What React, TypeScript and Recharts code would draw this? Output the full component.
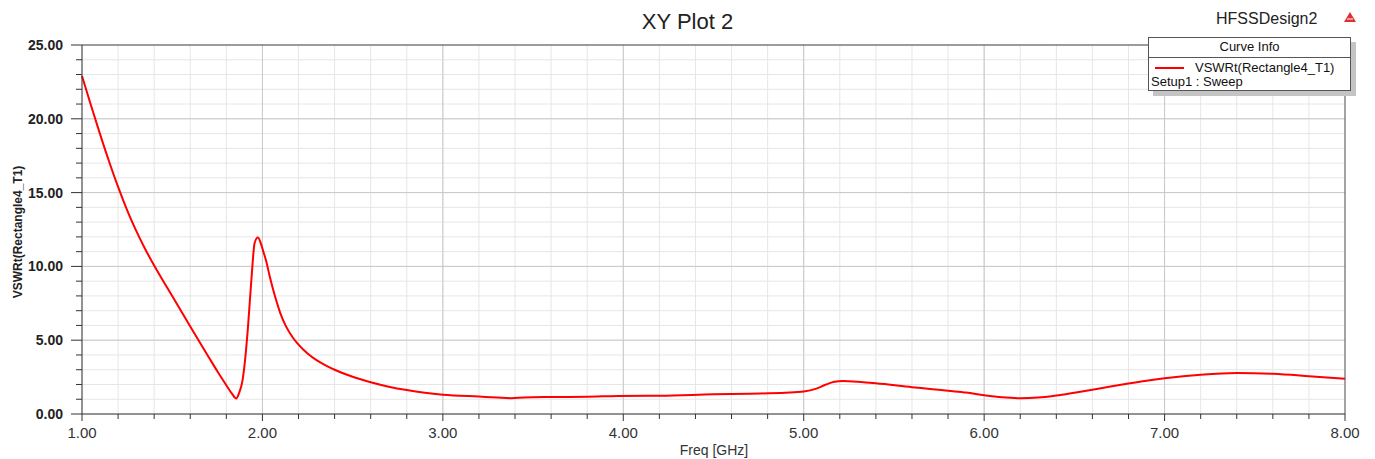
import React from 'react';
import { LineChart, Line, XAxis, YAxis, CartesianGrid, ReferenceLine, Legend } from 'recharts';

// Freq [GHz] sample points
const freqs = [
  1.0, 1.05, 1.1, 1.15, 1.2, 1.25, 1.3, 1.35, 1.4, 1.45, 1.5, 1.55, 1.6, 1.65, 1.7, 1.75, 1.8, 1.83, 1.855,
  1.87, 1.89, 1.905, 1.92, 1.94, 1.957, 1.975, 1.99, 2.005, 2.02, 2.04, 2.06, 2.08, 2.1, 2.13, 2.17, 2.2, 2.25,
  2.3, 2.35, 2.4, 2.5, 2.6, 2.7, 2.8, 2.9, 3.0, 3.2, 3.3, 3.38, 3.45, 3.6, 3.8, 3.97, 4.2, 4.5, 4.7, 4.9, 5.0,
  5.07, 5.12, 5.17, 5.22, 5.3, 5.4, 5.6, 5.7, 5.8, 5.9, 6.0, 6.1, 6.2, 6.3, 6.4, 6.5, 6.6, 6.7, 6.8, 6.9, 7.0,
  7.2, 7.4, 7.6, 7.8, 8.0,
];

// VSWRt(Rectangle4_T1)
const vswr = [
  22.9, 20.9, 18.96, 17.11, 15.39, 13.82, 12.42, 11.18, 10.06, 9.01, 7.99, 6.96, 5.93, 4.91, 3.9, 2.9, 1.95, 1.4, 1.05,
  1.4, 2.3, 3.8, 5.9, 9.3, 11.6, 11.95, 11.6, 11.0, 10.4, 9.35, 8.4, 7.55, 6.8, 5.95, 5.15, 4.7, 4.1,
  3.65, 3.3, 3.0, 2.52, 2.15, 1.85, 1.62, 1.44, 1.31, 1.18, 1.12, 1.07, 1.12, 1.15, 1.17, 1.22, 1.24, 1.33, 1.38, 1.44, 1.52,
  1.72, 1.98, 2.18, 2.24, 2.18, 2.08, 1.82, 1.7, 1.57, 1.45, 1.27, 1.13, 1.07, 1.11, 1.25, 1.44, 1.64, 1.86, 2.07, 2.26, 2.42,
  2.66, 2.78, 2.72, 2.56, 2.38,
];

const xTicks = [
  1, 1.2, 1.4, 1.6, 1.8, 2, 2.2, 2.4, 2.6, 2.8, 3, 3.2, 3.4, 3.6, 3.8, 4, 4.2, 4.4, 4.6, 4.8, 5,
  5.2, 5.4, 5.6, 5.8, 6, 6.2, 6.4, 6.6, 6.8, 7, 7.2, 7.4, 7.6, 7.8, 8,
];
const xMajor = [2, 3, 4, 5, 6, 7];
const yTicks = [0, 1, 2, 3, 4, 5, 6, 7, 8, 9, 10, 11, 12, 13, 14, 15, 16, 17, 18, 19, 20, 21, 22, 23, 24, 25];
const yMajor = [5, 10, 15, 20];

const data = freqs.map((f, i) => ({ freq: f, vswr: vswr[i] }));

const FONT = '"Liberation Sans", Arial, sans-serif';

const isWhole = (v: number, step: number) => Math.abs(v / step - Math.round(v / step)) < 1e-6;

const XTick = (props: any) => {
  const { x, y, payload } = props;
  const major = isWhole(payload.value, 1);
  return (
    <g>
      <line x1={x} y1={y} x2={x} y2={y + (major ? 7 : 5)} stroke="#333" />
      {major && (
        <text x={x} y={y + 18} textAnchor="middle" dominantBaseline="central" fontSize={15} fill="#333" fontFamily={FONT}>
          {payload.value.toFixed(2)}
        </text>
      )}
    </g>
  );
};

const YTick = (props: any) => {
  const { x, y, payload } = props;
  const major = isWhole(payload.value, 5);
  return (
    <g>
      <line x1={x - (major ? 11 : 6)} y1={y} x2={x} y2={y} stroke="#333" />
      {major && (
        <text x={x - 19} y={y} textAnchor="end" dominantBaseline="central" fontSize={14} fontWeight="bold" fill="#222" fontFamily={FONT}>
          {payload.value.toFixed(2)}
        </text>
      )}
    </g>
  );
};

const CurveInfo = () => (
  <div
    style={{
      width: 201,
      height: 52,
      border: '1px solid #555',
      background: '#fff',
      boxShadow: '5px 5px 0 #c4c4c4',
      fontFamily: FONT,
      fontSize: 13,
      color: '#111',
      lineHeight: '14px',
    }}
  >
    <div style={{ height: 19, borderBottom: '1px solid #555', textAlign: 'center', lineHeight: '18px' }}>Curve Info</div>
    <div style={{ position: 'relative', height: 14, marginTop: 3 }}>
      <span style={{ position: 'absolute', left: 6, top: 6, width: 29, height: 2, background: '#ff0000' }} />
      <span style={{ position: 'absolute', left: 46, top: 0, whiteSpace: 'nowrap' }}>VSWRt(Rectangle4_T1)</span>
    </div>
    <div style={{ paddingLeft: 2, whiteSpace: 'nowrap' }}>Setup1 : Sweep</div>
  </div>
);

export default function App() {
  return (
    <div style={{ position: 'absolute', left: 0, top: 0, width: 1375, height: 459, background: '#fff', fontFamily: FONT }}>
      <div style={{ position: 'absolute', left: 0, width: 1375, top: 9, textAlign: 'center', fontSize: 22, color: '#222' }}>
        XY Plot 2
      </div>
      <div style={{ position: 'absolute', left: 1216, top: 10, fontSize: 16, color: '#222' }}>HFSSDesign2</div>
      <svg style={{ position: 'absolute', left: 1344, top: 12 }} width={12} height={10}>
        <polygon points="6,0 12,10 0,10" fill="#e03030" />
        <line x1={3} y1={7} x2={9} y2={7} stroke="#fff" strokeWidth={1} />
      </svg>
      <LineChart width={1375} height={459} data={data} margin={{ top: 45, right: 30, left: 0, bottom: 0 }}>
        <CartesianGrid stroke="#e6e6e6" strokeWidth={1} />
        {xMajor.map((v) => (
          <ReferenceLine key={'x' + v} x={v} stroke="#c8c8c8" />
        ))}
        {yMajor.map((v) => (
          <ReferenceLine key={'y' + v} y={v} stroke="#c8c8c8" />
        ))}
        <ReferenceLine y={25} stroke="#444" />
        <ReferenceLine x={8} stroke="#555" />
        <XAxis
          dataKey="freq"
          type="number"
          domain={[1, 8]}
          ticks={xTicks}
          interval={0}
          height={45}
          tickSize={0}
          tickMargin={0}
          tick={<XTick />}
          stroke="#333"
          label={{
            content: () => (
              <text x={714} y={450} textAnchor="middle" dominantBaseline="central" fontSize={14} fill="#333" fontFamily={FONT}>
                Freq [GHz]
              </text>
            ),
          }}
        />
        <YAxis
          type="number"
          domain={[0, 25]}
          ticks={yTicks}
          interval={0}
          width={82}
          tickSize={0}
          tickMargin={0}
          tick={<YTick />}
          stroke="#333"
          label={{
            content: () => (
              <text
                x={18}
                y={232}
                transform="rotate(-90 18 232)"
                textAnchor="middle"
                dominantBaseline="central"
                fontSize={12}
                fontWeight="bold"
                fill="#222"
                fontFamily={FONT}
              >
                VSWRt(Rectangle4_T1)
              </text>
            ),
          }}
        />
        <Legend
          layout="horizontal"
          verticalAlign="middle"
          align="center"
          content={() => <CurveInfo />}
          wrapperStyle={{ left: 1148, top: 37, width: 203, height: 54 }}
        />
        <Line
          type="monotone"
          dataKey="vswr"
          stroke="#ff0000"
          strokeWidth={2}
          dot={false}
          activeDot={false}
          isAnimationActive={false}
        />
      </LineChart>
    </div>
  );
}
